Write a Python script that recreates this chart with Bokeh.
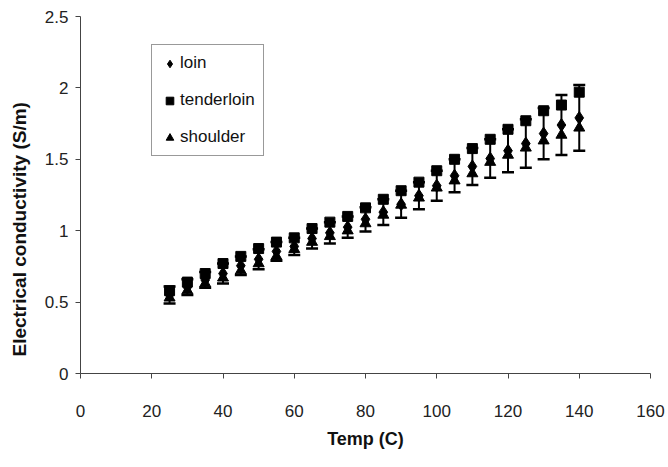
from bokeh.plotting import figure
from bokeh.models import (ColumnDataSource, Range1d, FixedTicker, Whisker, TeeHead,
                          Legend, LegendItem)
from bokeh.embed import file_html
from bokeh.resources import INLINE

# ---- data ----
temp = [25, 30, 35, 40, 45, 50, 55, 60, 65, 70, 75, 80,
        85, 90, 95, 100, 105, 110, 115, 120, 125, 130, 135, 140]

loin = [0.55, 0.605, 0.655, 0.70, 0.755, 0.80, 0.855, 0.89, 0.945, 0.985, 1.025, 1.08,
        1.13, 1.185, 1.245, 1.315, 1.385, 1.45, 1.505, 1.56, 1.61, 1.68, 1.74, 1.79]
loin_err = [0.06, 0.055, 0.055, 0.07, 0.065, 0.07, 0.065, 0.06, 0.07, 0.075, 0.075, 0.085,
            0.09, 0.095, 0.095, 0.105, 0.115, 0.13, 0.135, 0.15, 0.17, 0.18, 0.21, 0.23]

tenderloin = [0.58, 0.64, 0.70, 0.77, 0.82, 0.875, 0.92, 0.95, 1.015, 1.06, 1.10, 1.16,
              1.22, 1.28, 1.34, 1.42, 1.50, 1.575, 1.64, 1.71, 1.77, 1.84, 1.88, 1.97]

shoulder = [0.53, 0.58, 0.63, 0.67, 0.72, 0.77, 0.82, 0.87, 0.92, 0.96, 1.00, 1.05,
            1.11, 1.18, 1.23, 1.30, 1.35, 1.40, 1.48, 1.53, 1.58, 1.63, 1.67, 1.72]

x_ticks = [0, 20, 40, 60, 80, 100, 120, 140, 160]
y_ticks = [0, 0.5, 1, 1.5, 2, 2.5]
y_tick_labels = ["0", "0.5", "1", "1.5", "2", "2.5"]
x_title = "Temp (C)"
y_title = "Electrical conductivity (S/m)"

FONT = "Liberation Sans"

p = figure(width=668, height=467, x_range=Range1d(0, 160), y_range=Range1d(0, 2.5),
           output_backend="svg", toolbar_location=None,
           min_border_left=80, min_border_right=18, min_border_top=16, min_border_bottom=94)

p.outline_line_color = None
p.xgrid.grid_line_color = None
p.ygrid.grid_line_color = None
p.background_fill_color = "white"
p.border_fill_color = "white"

for ax in (p.xaxis[0], p.yaxis[0]):
    ax.axis_line_color = "#444444"
    ax.axis_line_width = 1
    ax.major_tick_line_color = "#444444"
    ax.major_tick_in = 0
    ax.major_tick_out = 5
    ax.minor_tick_line_color = None
    ax.major_label_text_font = FONT
    ax.major_label_text_font_size = "17px"
    ax.major_label_text_color = "#222222"
    ax.axis_label_text_font = FONT
    ax.axis_label_text_font_style = "bold"
    ax.axis_label_text_color = "#111111"

p.xaxis.ticker = FixedTicker(ticks=x_ticks)
p.yaxis.ticker = FixedTicker(ticks=y_ticks)
p.yaxis.major_label_overrides = {float(t): s for t, s in zip(y_ticks, y_tick_labels)}
p.xaxis.axis_label = x_title
p.xaxis.axis_label_text_font_size = "18px"
p.xaxis.major_label_standoff = 26
p.xaxis.axis_label_standoff = 9

# y title: trailing no-break spaces shift the visible words below centre, as in the reference
p.yaxis.axis_label = y_title + "\u00a0" * 13
p.yaxis.axis_label_text_font_size = "19px"
p.yaxis.major_label_standoff = 7
p.yaxis.axis_label_standoff = 12

# error bars (drawn beneath the markers)
err_src = ColumnDataSource(dict(
    x=temp,
    lower=[v - e for v, e in zip(loin, loin_err)],
    upper=[v + e for v, e in zip(loin, loin_err)],
))
w = Whisker(source=err_src, base="x", lower="lower", upper="upper",
            line_color="black", line_width=2, level="underlay",
            upper_head=TeeHead(size=12, line_width=2.5, line_color="black"),
            lower_head=TeeHead(size=12, line_width=2.5, line_color="black"))
p.add_layout(w)

series = [
    ("loin", loin, "diamond", 13),
    ("tenderloin", tenderloin, "square", 10),
    ("shoulder", shoulder, "triangle", 11),
]

items = []
for name, vals, marker, size in series:
    src = ColumnDataSource(dict(x=temp, y=vals))
    r = p.scatter("x", "y", source=src, marker=marker, size=size,
                  fill_color="black", line_color="black")
    items.append(LegendItem(label=name, renderers=[r]))

legend = Legend(items=items, location=(71, 217))
legend.border_line_color = "#333333"
legend.border_line_width = 1
legend.background_fill_color = "white"
legend.background_fill_alpha = 1
legend.label_text_font = FONT
legend.label_text_font_size = "17px"
legend.label_text_color = "#111111"
legend.glyph_width = 19
legend.glyph_height = 19
legend.label_standoff = 1
legend.label_height = 20
legend.spacing = 17
legend.padding = 8
legend.margin = 0
p.add_layout(legend, "center")

open("out.html", "w").write(file_html(p, INLINE))
